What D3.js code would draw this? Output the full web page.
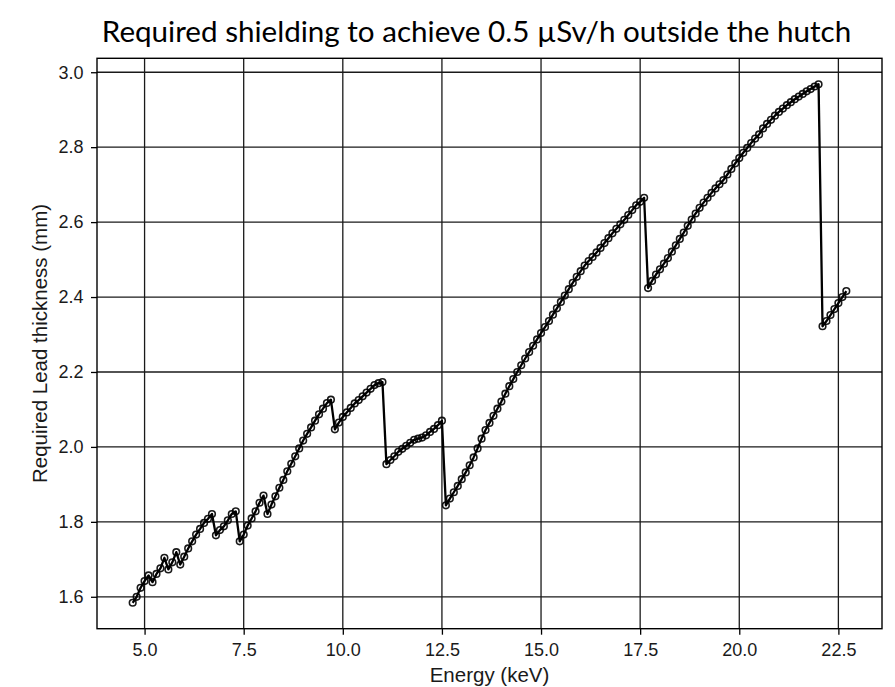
<!DOCTYPE html>
<html>
<head>
<meta charset="utf-8">
<script src="https://cdn.jsdelivr.net/npm/d3@7"></script>
<style>
  html, body { margin: 0; padding: 0; background: #fff; }
  svg { display: block; }
</style>
</head>
<body>
<svg id="chart" width="895" height="687"></svg>
<script>
const chartTitle = "Required shielding to achieve 0.5 \u00b5Sv/h outside the hutch";
const xLabel = "Energy (keV)";
const yLabel = "Required Lead thickness (mm)";

const energies = [
  4.7, 4.8, 4.9, 5.0, 5.1, 5.2, 5.3, 5.4, 5.5, 5.6, 5.7, 5.8, 5.9, 6.0, 6.1, 6.2, 6.3, 6.4, 6.5, 6.6,
  6.7, 6.8, 6.9, 7.0, 7.1, 7.2, 7.3, 7.4, 7.5, 7.6, 7.7, 7.8, 7.9, 8.0, 8.1, 8.2, 8.3, 8.4, 8.5, 8.6,
  8.7, 8.8, 8.9, 9.0, 9.1, 9.2, 9.3, 9.4, 9.5, 9.6, 9.7, 9.8, 9.9, 10.0, 10.1, 10.2, 10.3, 10.4, 10.5, 10.6,
  10.7, 10.8, 10.9, 11.0, 11.1, 11.2, 11.3, 11.4, 11.5, 11.6, 11.7, 11.8, 11.9, 12.0, 12.1, 12.2, 12.3, 12.4, 12.5, 12.6,
  12.7, 12.8, 12.9, 13.0, 13.1, 13.2, 13.3, 13.4, 13.5, 13.6, 13.7, 13.8, 13.9, 14.0, 14.1, 14.2, 14.3, 14.4, 14.5, 14.6,
  14.7, 14.8, 14.9, 15.0, 15.1, 15.2, 15.3, 15.4, 15.5, 15.6, 15.7, 15.8, 15.9, 16.0, 16.1, 16.2, 16.3, 16.4, 16.5, 16.6,
  16.7, 16.8, 16.9, 17.0, 17.1, 17.2, 17.3, 17.4, 17.5, 17.6, 17.7, 17.8, 17.9, 18.0, 18.1, 18.2, 18.3, 18.4, 18.5, 18.6,
  18.7, 18.8, 18.9, 19.0, 19.1, 19.2, 19.3, 19.4, 19.5, 19.6, 19.7, 19.8, 19.9, 20.0, 20.1, 20.2, 20.3, 20.4, 20.5, 20.6,
  20.7, 20.8, 20.9, 21.0, 21.1, 21.2, 21.3, 21.4, 21.5, 21.6, 21.7, 21.8, 21.9, 22.0, 22.1, 22.2, 22.3, 22.4, 22.5, 22.6,
  22.7
];

const thickness = [
  1.584, 1.600, 1.624, 1.642, 1.657, 1.639, 1.661, 1.676, 1.704, 1.673, 1.692, 1.719, 1.686, 1.707, 1.729, 1.748, 1.766, 1.781, 1.797, 1.808,
  1.821, 1.764, 1.778, 1.788, 1.804, 1.821, 1.828, 1.748, 1.766, 1.790, 1.809, 1.828, 1.851, 1.870, 1.821, 1.846, 1.868, 1.891, 1.912, 1.935,
  1.955, 1.975, 1.996, 2.017, 2.035, 2.052, 2.070, 2.087, 2.102, 2.117, 2.126, 2.047, 2.065, 2.080, 2.092, 2.104, 2.116, 2.125, 2.135, 2.145,
  2.155, 2.165, 2.170, 2.173, 1.954, 1.965, 1.975, 1.987, 1.995, 2.003, 2.011, 2.019, 2.022, 2.025, 2.031, 2.040, 2.048, 2.058, 2.070, 1.844,
  1.862, 1.879, 1.896, 1.914, 1.932, 1.951, 1.972, 1.996, 2.022, 2.045, 2.064, 2.083, 2.102, 2.121, 2.142, 2.162, 2.181, 2.200, 2.218, 2.236,
  2.253, 2.270, 2.287, 2.304, 2.320, 2.336, 2.353, 2.370, 2.387, 2.404, 2.421, 2.438, 2.454, 2.469, 2.484, 2.496, 2.507, 2.519, 2.531, 2.544,
  2.557, 2.570, 2.582, 2.594, 2.606, 2.619, 2.632, 2.645, 2.654, 2.665, 2.424, 2.443, 2.460, 2.474, 2.489, 2.504, 2.521, 2.538, 2.555, 2.572,
  2.590, 2.607, 2.623, 2.638, 2.652, 2.665, 2.678, 2.690, 2.701, 2.712, 2.727, 2.742, 2.757, 2.771, 2.785, 2.798, 2.811, 2.823, 2.834, 2.850,
  2.862, 2.873, 2.884, 2.894, 2.903, 2.912, 2.920, 2.928, 2.935, 2.942, 2.949, 2.955, 2.962, 2.968, 2.322, 2.336, 2.352, 2.368, 2.384, 2.400,
  2.416
];

const xTicks = [5.0, 7.5, 10.0, 12.5, 15.0, 17.5, 20.0, 22.5];
const yTicks = [1.6, 1.8, 2.0, 2.2, 2.4, 2.6, 2.8, 3.0];

const data = energies.map((e, i) => ({ e, t: thickness[i] }));

const svg = d3.select("#chart");
const plot = { left: 97, right: 882, top: 58.3, bottom: 628.7 };

// matplotlib-like 5% margins
const xExt = d3.extent(energies), yExt = d3.extent(thickness);
const xPad = (xExt[1] - xExt[0]) * 0.05, yPad = (yExt[1] - yExt[0]) * 0.05;

const x = d3.scaleLinear().domain([xExt[0] - xPad, xExt[1] + xPad]).range([plot.left, plot.right]);
const y = d3.scaleLinear().domain([yExt[0] - yPad, yExt[1] + yPad]).range([plot.bottom, plot.top]);

const fontSans = "'Liberation Sans', Arial, Helvetica, sans-serif";

// grid
const grid = svg.append("g").attr("class", "grid");
grid.selectAll("line.vx").data(xTicks).join("line")
  .attr("x1", d => x(d)).attr("x2", d => x(d))
  .attr("y1", plot.top).attr("y2", plot.bottom)
  .attr("stroke", "#1a1a1a").attr("stroke-width", 1.3);
grid.selectAll("line.hy").data(yTicks).join("line")
  .attr("y1", d => y(d)).attr("y2", d => y(d))
  .attr("x1", plot.left).attr("x2", plot.right)
  .attr("stroke", "#1a1a1a").attr("stroke-width", 1.3);

// axes
const xAxis = d3.axisBottom(x).tickValues(xTicks).tickFormat(d3.format(".1f")).tickSize(6).tickPadding(8.5);
const yAxis = d3.axisLeft(y).tickValues(yTicks).tickFormat(d3.format(".1f")).tickSize(6).tickPadding(7.5);

const gx = svg.append("g").attr("transform", `translate(0,${plot.bottom})`).call(xAxis);
const gy = svg.append("g").attr("transform", `translate(${plot.left},0)`).call(yAxis);
[gx, gy].forEach(g => {
  g.select(".domain").remove();
  g.selectAll(".tick line").attr("stroke", "#000").attr("stroke-width", 1.3);
  g.selectAll(".tick text").attr("fill", "#1a1a1a").style("font-family", fontSans).style("font-size", "18px");
});

// frame
svg.append("rect")
  .attr("x", plot.left).attr("y", plot.top)
  .attr("width", plot.right - plot.left).attr("height", plot.bottom - plot.top)
  .attr("fill", "none").attr("stroke", "#000").attr("stroke-width", 1.4);

// line
const line = d3.line().x(d => x(d.e)).y(d => y(d.t));
svg.append("path").datum(data)
  .attr("d", line).attr("fill", "none")
  .attr("stroke", "#000").attr("stroke-width", 2.3).attr("stroke-linejoin", "round");

// markers
svg.append("g").selectAll("circle").data(data).join("circle")
  .attr("cx", d => x(d.e)).attr("cy", d => y(d.t)).attr("r", 3.3)
  .attr("fill", "none").attr("stroke", "#000").attr("stroke-opacity", 0.9).attr("stroke-width", 1.6);

// labels
svg.append("text").attr("x", (plot.left + plot.right) / 2).attr("y", 682)
  .attr("text-anchor", "middle").attr("fill", "#1a1a1a").style("font-family", fontSans).style("font-size", "20.5px")
  .text(xLabel);
svg.append("text").attr("transform", `translate(47,${(plot.top + plot.bottom) / 2}) rotate(-90)`)
  .attr("text-anchor", "middle").attr("fill", "#1a1a1a").style("font-family", fontSans).style("font-size", "20.5px")
  .text(yLabel);

// title
svg.append("text").attr("x", 476.5).attr("y", 42)
  .attr("text-anchor", "middle").style("font-family", "Lato, 'Open Sans', sans-serif").style("font-size", "29.6px")
  .attr("fill", "#000").text(chartTitle);
</script>
</body>
</html>
